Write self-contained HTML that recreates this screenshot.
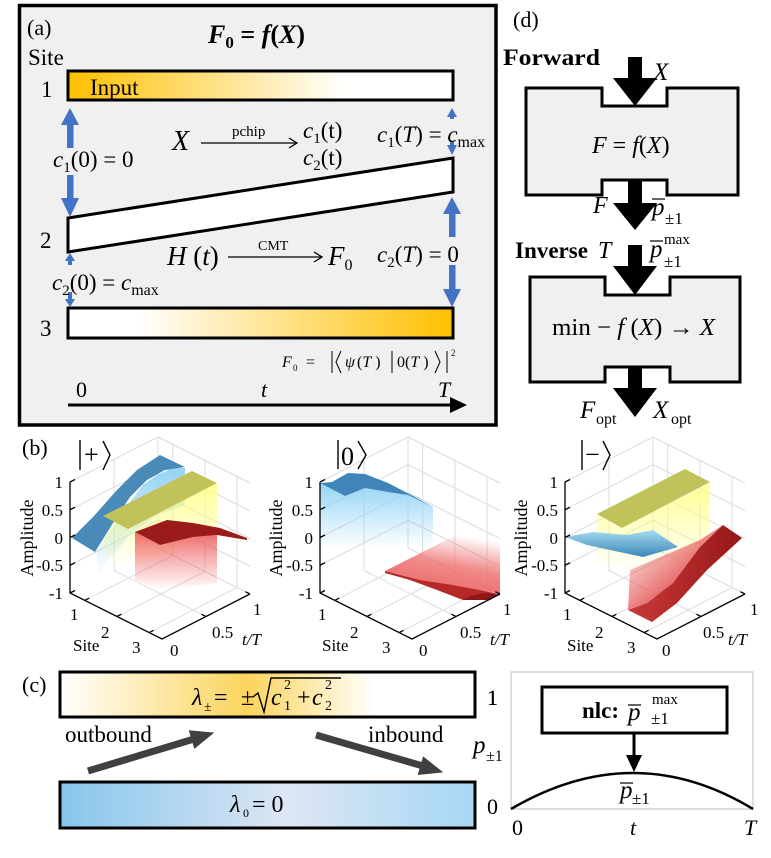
<!DOCTYPE html>
<html><head><meta charset="utf-8">
<style>
html,body{margin:0;padding:0;background:#fff;}
svg{display:block;font-family:"Liberation Serif","DejaVu Serif",serif;}
</style></head><body>
<svg width="771" height="858" viewBox="0 0 771 858" xmlns="http://www.w3.org/2000/svg">
<defs>
<linearGradient id="gIn" x1="0" y1="0" x2="1" y2="0"><stop offset="0" stop-color="#ffc000"/><stop offset="0.72" stop-color="#ffffff"/></linearGradient>
<linearGradient id="gOut" x1="0" y1="0" x2="1" y2="0"><stop offset="0.18" stop-color="#ffffff"/><stop offset="1" stop-color="#ffc000"/></linearGradient>
<linearGradient id="gTop" x1="0" y1="0" x2="1" y2="0"><stop offset="0" stop-color="#ffffff"/><stop offset="0.45" stop-color="#fbd45c"/><stop offset="0.76" stop-color="#ffffff"/></linearGradient>
<linearGradient id="gBot" x1="0" y1="0" x2="1" y2="0"><stop offset="0" stop-color="#86c6ec"/><stop offset="0.55" stop-color="#dde6f4"/><stop offset="1" stop-color="#a6d7f5"/></linearGradient>
<linearGradient id="cBlue" x1="0" y1="0" x2="0" y2="1"><stop offset="0" stop-color="#8fd2f5" stop-opacity="0.95"/><stop offset="1" stop-color="#8fd2f5" stop-opacity="0"/></linearGradient>
<linearGradient id="cYel" x1="0" y1="0" x2="0" y2="1"><stop offset="0" stop-color="#ffff80" stop-opacity="0.85"/><stop offset="1" stop-color="#ffff80" stop-opacity="0"/></linearGradient>
<linearGradient id="cRed" x1="0" y1="0" x2="0" y2="1"><stop offset="0" stop-color="#ee5c5c" stop-opacity="0.9"/><stop offset="1" stop-color="#ee5c5c" stop-opacity="0"/></linearGradient>
<linearGradient id="cRedUp" x1="0" y1="1" x2="0.3" y2="0"><stop offset="0" stop-color="#ea5e5e" stop-opacity="1"/><stop offset="0.55" stop-color="#ee6c6c" stop-opacity="0.8"/><stop offset="1" stop-color="#ee6c6c" stop-opacity="0"/></linearGradient>
<linearGradient id="sBlueR" x1="0" y1="0" x2="0" y2="1"><stop offset="0" stop-color="#a8dcf2"/><stop offset="1" stop-color="#3b86b8"/></linearGradient>
<linearGradient id="cRedR" x1="0" y1="0" x2="1" y2="1"><stop offset="0" stop-color="#ec6262" stop-opacity="0"/><stop offset="0.6" stop-color="#e45a5a" stop-opacity="0.9"/><stop offset="1" stop-color="#d84848"/></linearGradient>
<linearGradient id="sRedR" x1="0" y1="0" x2="1" y2="0"><stop offset="0" stop-color="#c83a3a"/><stop offset="0.5" stop-color="#b02828"/><stop offset="1" stop-color="#961818"/></linearGradient>
</defs>

<!-- ================= Panel (a) ================= -->
<rect x="19.5" y="5.5" width="476.5" height="419.5" fill="#f0f0f0" stroke="#000" stroke-width="3.5"/>
<text x="27" y="35" font-size="22">(a)</text>
<text x="208" y="43" font-size="26" font-weight="bold"><tspan font-style="italic">F</tspan><tspan font-size="17" dy="5">0</tspan><tspan dy="-5"> = </tspan><tspan font-style="italic">f</tspan>(<tspan font-style="italic">X</tspan>)</text>
<text x="28" y="65" font-size="23">Site</text>
<text x="41" y="97" font-size="23">1</text>
<text x="40" y="248" font-size="23">2</text>
<text x="40" y="336" font-size="23">3</text>

<rect x="68" y="71" width="385" height="29" fill="url(#gIn)" stroke="#000" stroke-width="3"/>
<text x="90" y="95" font-size="23">Input</text>
<polygon points="68,218 453,158 453,192 68,252" fill="#fff" stroke="#000" stroke-width="3" stroke-linejoin="miter"/>
<rect x="68" y="308" width="385" height="30" fill="url(#gOut)" stroke="#000" stroke-width="3"/>

<!-- blue arrows -->
<g fill="#4472c4" stroke="none">
  <polygon points="70,108 79,125 61,125"/><rect x="67" y="124" width="6.5" height="24"/>
  <rect x="67" y="175" width="6.5" height="24"/><polygon points="61,198 79,198 70,217"/>
  <polygon points="452,108 457,117 447,117"/><rect x="450" y="116" width="4" height="3"/>
  <rect x="450" y="141" width="4" height="5"/><polygon points="447,145 457,145 452,155"/>
  <polygon points="452,197 461,214 443,214"/><rect x="449" y="213" width="6.5" height="24"/>
  <rect x="449" y="265" width="6.5" height="25"/><polygon points="443,289 461,289 452,307"/>
  <polygon points="70,253 75,261 65,261"/><rect x="68" y="260" width="4" height="5"/>
  <rect x="68" y="292" width="4" height="8"/><polygon points="65,299 75,299 70,307"/>
</g>

<text x="53" y="167" font-size="23"><tspan font-style="italic">c</tspan><tspan font-size="15" dy="5">1</tspan><tspan dy="-5">(0) = 0</tspan></text>
<text x="172" y="150" font-size="28" font-style="italic">X</text>
<line x1="201" y1="143" x2="296" y2="143" stroke="#000" stroke-width="1.3"/>
<path d="M289,138 L297,143 L289,148" fill="none" stroke="#000" stroke-width="1.3"/>
<text x="232" y="136" font-size="15">pchip</text>
<text x="303" y="138" font-size="23"><tspan font-style="italic">c</tspan><tspan font-size="15" dy="5">1</tspan><tspan dy="-5">(t)</tspan></text>
<text x="303" y="165" font-size="23"><tspan font-style="italic">c</tspan><tspan font-size="15" dy="5">2</tspan><tspan dy="-5">(t)</tspan></text>
<text x="377" y="142" font-size="23"><tspan font-style="italic">c</tspan><tspan font-size="15" dy="5">1</tspan><tspan dy="-5">(</tspan><tspan font-style="italic">T</tspan>) = <tspan font-style="italic">c</tspan><tspan font-size="16" dy="5">max</tspan></text>

<text x="167" y="265" font-size="27"><tspan font-style="italic">H</tspan> (<tspan font-style="italic">t</tspan>)</text>
<line x1="228" y1="257" x2="321" y2="257" stroke="#000" stroke-width="1.3"/>
<path d="M314,252 L322,257 L314,262" fill="none" stroke="#000" stroke-width="1.3"/>
<text x="258" y="250" font-size="14">CMT</text>
<text x="328" y="265" font-size="27"><tspan font-style="italic">F</tspan><tspan font-size="16" dy="5">0</tspan></text>
<text x="377" y="262" font-size="23"><tspan font-style="italic">c</tspan><tspan font-size="15" dy="5">2</tspan><tspan dy="-5">(</tspan><tspan font-style="italic">T</tspan>) = 0</text>
<text x="52" y="290" font-size="23"><tspan font-style="italic">c</tspan><tspan font-size="15" dy="5">2</tspan><tspan dy="-5">(0) = </tspan><tspan font-style="italic">c</tspan><tspan font-size="16" dy="5">max</tspan></text>

<g font-size="16">
<text x="282" y="367" font-style="italic">F</text>
<text x="293" y="371" font-size="9">0</text>
<text x="306" y="367">=</text>
<line x1="332" y1="351" x2="332" y2="373" stroke="#000" stroke-width="1"/>
<path d="M341,351 L336,362 L341,373" fill="none" stroke="#000" stroke-width="1"/>
<text x="345" y="367" font-style="italic">ψ</text>
<text x="357" y="367">(<tspan font-style="italic">T</tspan> )</text>
<line x1="392" y1="351" x2="392" y2="373" stroke="#000" stroke-width="1"/>
<text x="397" y="367">0(<tspan font-style="italic">T</tspan> )</text>
<path d="M435,351 L440,362 L435,373" fill="none" stroke="#000" stroke-width="1"/>
<line x1="447" y1="351" x2="447" y2="373" stroke="#000" stroke-width="1"/>
<text x="451" y="356" font-size="9">2</text>
</g>

<text x="76" y="397" font-size="22">0</text>
<text x="261" y="397" font-size="22" font-style="italic">t</text>
<text x="438" y="397" font-size="22" font-style="italic">T</text>
<line x1="68" y1="405" x2="452" y2="405" stroke="#000" stroke-width="3"/>
<polygon points="450,397 467,405 450,413" fill="#000"/>

<!-- ================= Panel (d) ================= -->
<text x="513" y="27" font-size="22">(d)</text>
<text x="503" y="65" font-size="23" font-weight="bold" textLength="97" lengthAdjust="spacingAndGlyphs">Forward</text>
<text x="653" y="80" font-size="25" font-style="italic">X</text>
<path d="M526,88 H602 V106 H667 V88 H738 V195 H667 V180 H602 V195 H526 Z" fill="#f0f0f0" stroke="#000" stroke-width="3"/>
<text x="592" y="153" font-size="24"><tspan font-style="italic">F</tspan> = <tspan font-style="italic">f</tspan>(<tspan font-style="italic">X</tspan>)</text>
<g fill="#000">
<polygon points="628,57 642,57 642,78 657,78 635,106 613,78 628,78"/>
<polygon points="628,180 642,180 642,203 657,203 635,230 613,203 628,203"/>
<polygon points="628,245 642,245 642,266 657,266 635,295 613,266 628,266"/>
<polygon points="628,367 642,367 642,388 657,388 635,417 613,388 628,388"/>
</g>
<text x="593" y="213" font-size="24" font-style="italic">F</text>
<text x="652" y="215" font-size="25" font-style="italic">p</text>
<line x1="652" y1="199" x2="665" y2="199" stroke="#000" stroke-width="1.2"/>
<text x="665" y="224" font-size="17">±1</text>

<text x="515" y="258" font-size="23" font-weight="bold" textLength="73" lengthAdjust="spacingAndGlyphs">Inverse</text>
<text x="598" y="258" font-size="24" font-style="italic">T</text>
<text x="650" y="257" font-size="25" font-style="italic">p</text>
<line x1="650" y1="241" x2="663" y2="241" stroke="#000" stroke-width="1.2"/>
<text x="664" y="244" font-size="15">max</text>
<text x="664" y="267" font-size="17">±1</text>

<path d="M530,277 H605 V295 H670 V277 H740 V382 H670 V367 H605 V382 H530 Z" fill="#f0f0f0" stroke="#000" stroke-width="3"/>
<text x="552" y="335" font-size="24" textLength="163" lengthAdjust="spacingAndGlyphs">min − <tspan font-style="italic">f</tspan> (<tspan font-style="italic">X</tspan>) → <tspan font-style="italic">X</tspan></text>

<text x="580" y="418" font-size="25" font-style="italic">F</text>
<text x="596" y="424" font-size="16">opt</text>
<text x="653" y="418" font-size="25" font-style="italic">X</text>
<text x="671" y="424" font-size="16">opt</text>

<!-- ================= Panel (b) ================= -->
<text x="22" y="455" font-size="22">(b)</text>

<g stroke="#dcdcdc" stroke-width="1" fill="none">
<path d="M70,482 L158,437 M70,509.75 L158,464.75 M70,537.5 L158,492.5 M70,565.25 L158,520.25
M114,459.5 V570.5 M158,437 V548
M158,437 L250,483 M158,464.75 L250,510.75 M158,492.5 L250,538.5 M158,520.25 L250,566.25 M158,548 L250,594
M172.7,444.4 V555.4 M204.9,460.5 V571.5 M237.1,476.6 V587.6
M84.7,600.4 L172.7,555.4 M116.9,616.5 L204.9,571.5 M149.1,632.6 L237.1,587.6
M114,570.5 L206,616.5"/>
<path d="M320,482 L408,437 M320,509.75 L408,464.75 M320,537.5 L408,492.5 M320,565.25 L408,520.25
M364,459.5 V570.5 M408,437 V548
M408,437 L500,483 M408,464.75 L500,510.75 M408,492.5 L500,538.5 M408,520.25 L500,566.25 M408,548 L500,594
M422.7,444.4 V555.4 M454.9,460.5 V571.5 M487.1,476.6 V587.6
M334.7,600.4 L422.7,555.4 M366.9,616.5 L454.9,571.5 M399.1,632.6 L487.1,587.6
M364,570.5 L456,616.5"/>
<path d="M565,482 L653,437 M565,509.75 L653,464.75 M565,537.5 L653,492.5 M565,565.25 L653,520.25
M609,459.5 V570.5 M653,437 V548
M653,437 L745,483 M653,464.75 L745,510.75 M653,492.5 L745,538.5 M653,520.25 L745,566.25 M653,548 L745,594
M667.7,444.4 V555.4 M699.9,460.5 V571.5 M732.1,476.6 V587.6
M579.7,600.4 L667.7,555.4 M611.9,616.5 L699.9,571.5 M644.1,632.6 L732.1,587.6
M609,570.5 L701,616.5"/>
</g>

<!-- Plot 1 surfaces |+> -->
<polygon points="97,552 107,535 117,522 130,502 143,485 157,475 173,468 185,468 185,505 157,515 130,535 107,562 97,578" fill="url(#cBlue)"/>
<polygon points="103,516 135,524 217,483 217,530 135,568 103,556" fill="url(#cYel)"/>
<polygon points="72,538 95,552 113,523 130,497 147,480 165,470 185,467 160,455 137,470 117,490 93,517" fill="#4a8ab9"/>
<polygon points="103,516 128,529 217,483 192,471" fill="#c2c25a"/>
<polygon points="135,532 160,545 193,537 217,535 217,583 160,590 135,580" fill="url(#cRed)"/>
<polygon points="135,532 167,520 193,523 220,528 247,538 247,540 217,535 193,537 160,545" fill="#9b1b1b"/>

<!-- Plot 2 surfaces |0> -->
<polygon points="320,483 345,496 365,488 388,492 408,495 433,507 433,548 320,548" fill="url(#cBlue)"/>
<polygon points="320,483 345,496 365,488 388,492 408,495 433,507 415,497 388,483 365,474 348,473 332,482" fill="#3f85b9"/>
<polygon points="385,571 470,528 500,528 500,594 480,590 453,585 420,580" fill="url(#cRedUp)"/>
<polygon points="385,571 420,580 453,585 480,590 498,594 490,600 463,600 437,590 410,580 385,573" fill="#b82828"/>
<polygon points="463,600 490,600 498,594 486,593 470,596" fill="#8e1616"/>

<!-- Plot 3 surfaces |-> -->
<polygon points="597,514 622,528 710,483 710,560 625,572 597,560" fill="url(#cYel)"/>
<polygon points="597,514 622,528 710,482 685,469" fill="#c2c25a"/>
<polygon points="565,537 593,532 627,535 653,530 678,547 643,557 610,550 587,545" fill="url(#sBlueR)"/>
<polygon points="630,570 700,540 723,525 700,547 673,583 647,603 628,610" fill="url(#cRedR)"/>
<polygon points="628,610 652,622 677,603 707,570 742,538 723,525 700,547 673,583 647,603" fill="url(#sRedR)"/>

<g stroke="#000" stroke-width="1.3" fill="none">
<path d="M70,482 V593 L162,639 L250,594 M70,482 l5,-2.5 M70,509.75 l5,-2.5 M70,537.5 l5,-2.5 M70,565.25 l5,-2.5 M70,593 l5,-2.5 M84.7,600.4 l4.5,-2.3 M116.9,616.5 l4.5,-2.3 M149.1,632.6 l4.5,-2.3 M206,616.5 l-4.6,-2.3 M250,594 l-4.6,-2.3"/>
<path d="M320,482 V593 L412,639 L500,594 M320,482 l5,-2.5 M320,509.75 l5,-2.5 M320,537.5 l5,-2.5 M320,565.25 l5,-2.5 M320,593 l5,-2.5 M334.7,600.4 l4.5,-2.3 M366.9,616.5 l4.5,-2.3 M399.1,632.6 l4.5,-2.3 M456,616.5 l-4.6,-2.3 M500,594 l-4.6,-2.3"/>
<path d="M565,482 V593 L657,639 L745,594 M565,482 l5,-2.5 M565,509.75 l5,-2.5 M565,537.5 l5,-2.5 M565,565.25 l5,-2.5 M565,593 l5,-2.5 M579.7,600.4 l4.5,-2.3 M611.9,616.5 l4.5,-2.3 M644.1,632.6 l4.5,-2.3 M701,616.5 l-4.6,-2.3 M745,594 l-4.6,-2.3"/>
</g>

<g font-size="17" text-anchor="end">
<text x="63" y="488">1</text><text x="63" y="516">0.5</text><text x="63" y="544">0</text><text x="63" y="571">-0.5</text><text x="63" y="599">-1</text>
<text x="313" y="488">1</text><text x="313" y="516">0.5</text><text x="313" y="544">0</text><text x="313" y="571">-0.5</text><text x="313" y="599">-1</text>
<text x="558" y="488">1</text><text x="558" y="516">0.5</text><text x="558" y="544">0</text><text x="558" y="571">-0.5</text><text x="558" y="599">-1</text>
</g>
<g font-size="18" text-anchor="middle">
<text transform="translate(33,538) rotate(-90)">Amplitude</text>
<text transform="translate(282,538) rotate(-90)">Amplitude</text>
<text transform="translate(527,538) rotate(-90)">Amplitude</text>
</g>
<g font-size="17">
<text x="70" y="620">1</text><text x="101" y="638">2</text><text x="132" y="653">3</text><text x="73" y="651">Site</text>
<text x="170" y="656">0</text><text x="212" y="638">0.5</text><text x="253" y="615">1</text>
<text x="242" y="645" font-style="italic">t/T</text>
<text x="318" y="620">1</text><text x="350" y="638">2</text><text x="382" y="653">3</text><text x="322" y="651">Site</text>
<text x="419" y="656">0</text><text x="460" y="638">0.5</text><text x="503" y="615">1</text>
<text x="490" y="645" font-style="italic">t/T</text>
<text x="563" y="620">1</text><text x="595" y="638">2</text><text x="627" y="653">3</text><text x="567" y="651">Site</text>
<text x="662" y="656">0</text><text x="703" y="638">0.5</text><text x="750" y="615">1</text>
<text x="728" y="645" font-style="italic">t/T</text>
</g>

<g stroke="#000" stroke-width="1.4" fill="none">
<line x1="80" y1="440" x2="80" y2="470"/><path d="M103,441 L110,455 L103,470"/>
<line x1="338" y1="440" x2="338" y2="469"/><path d="M358,441 L366,455 L358,469"/>
<line x1="582" y1="440" x2="582" y2="470"/><path d="M603,441 L610,455 L603,470"/>
</g>
<text x="84" y="463" font-size="26">+</text>
<text x="341" y="465" font-size="26">0</text>
<text x="585" y="463" font-size="26">−</text>

<!-- ================= Panel (c) ================= -->
<text x="22" y="692" font-size="22">(c)</text>
<rect x="60" y="672" width="415" height="45" fill="url(#gTop)" stroke="#000" stroke-width="3"/>
<text x="192" y="705" font-size="24" font-style="italic">λ</text>
<text x="204" y="711" font-size="14">±</text>
<text x="214" y="705" font-size="24">=</text>
<text x="241" y="705" font-size="24">±</text>
<path d="M253,697 L258,693 L264,712 L271,678 L341,678" fill="none" stroke="#000" stroke-width="1.4"/>
<text x="271" y="705" font-size="24" font-style="italic">c</text>
<text x="284" y="689" font-size="14">2</text>
<text x="284" y="710" font-size="14">1</text>
<text x="297" y="705" font-size="24">+</text>
<text x="312" y="705" font-size="24" font-style="italic">c</text>
<text x="325" y="689" font-size="14">2</text>
<text x="325" y="710" font-size="14">2</text>
<text x="487" y="705" font-size="22">1</text>

<text x="65" y="742" font-size="23">outbound</text>
<text x="368" y="742" font-size="23">inbound</text>
<g fill="#404040" stroke="#404040">
<line x1="88" y1="771" x2="194" y2="739" stroke-width="7"/>
<polygon points="213,733 194.6,748 189.4,730.8" stroke-width="1"/>
<line x1="316" y1="735" x2="423" y2="766" stroke-width="7"/>
<polygon points="442,772 418.4,774.4 423.4,757.2" stroke-width="1"/>
</g>

<rect x="60" y="782" width="415" height="46" fill="url(#gBot)" stroke="#000" stroke-width="3"/>
<text x="230" y="812" font-size="24" font-style="italic">λ</text>
<text x="243" y="817" font-size="12">0</text>
<text x="252" y="812" font-size="24">= 0</text>
<text x="487" y="814" font-size="22">0</text>
<text x="473" y="753" font-size="25" font-style="italic">p</text>
<text x="486" y="761" font-size="16">±1</text>

<rect x="511" y="672" width="242" height="137" fill="none" stroke="#c8c8c8" stroke-width="1.2"/>
<text x="487" y="705" font-size="22">1</text>
<path d="M511,809 Q634,737 753,809" fill="none" stroke="#000" stroke-width="2.5"/>
<rect x="542" y="687" width="185" height="46" fill="#fff" stroke="#000" stroke-width="3"/>
<text x="582" y="718" font-size="23" font-weight="bold">nlc:</text>
<text x="628" y="720" font-size="25" font-style="italic">p</text>
<line x1="628" y1="705" x2="641" y2="705" stroke="#000" stroke-width="1.2"/>
<text x="652" y="704" font-size="15">max</text>
<text x="651" y="724" font-size="17">±1</text>
<line x1="634" y1="733" x2="634" y2="757" stroke="#000" stroke-width="3"/>
<polygon points="626,755 642,755 634,772" fill="#000"/>
<text x="620" y="798" font-size="25" font-style="italic">p</text>
<line x1="620" y1="783" x2="633" y2="783" stroke="#000" stroke-width="1.2"/>
<text x="632" y="804" font-size="17">±1</text>
<text x="512" y="835" font-size="22">0</text>
<text x="630" y="835" font-size="22" font-style="italic">t</text>
<text x="744" y="835" font-size="22" font-style="italic">T</text>
</svg>
</body></html>
